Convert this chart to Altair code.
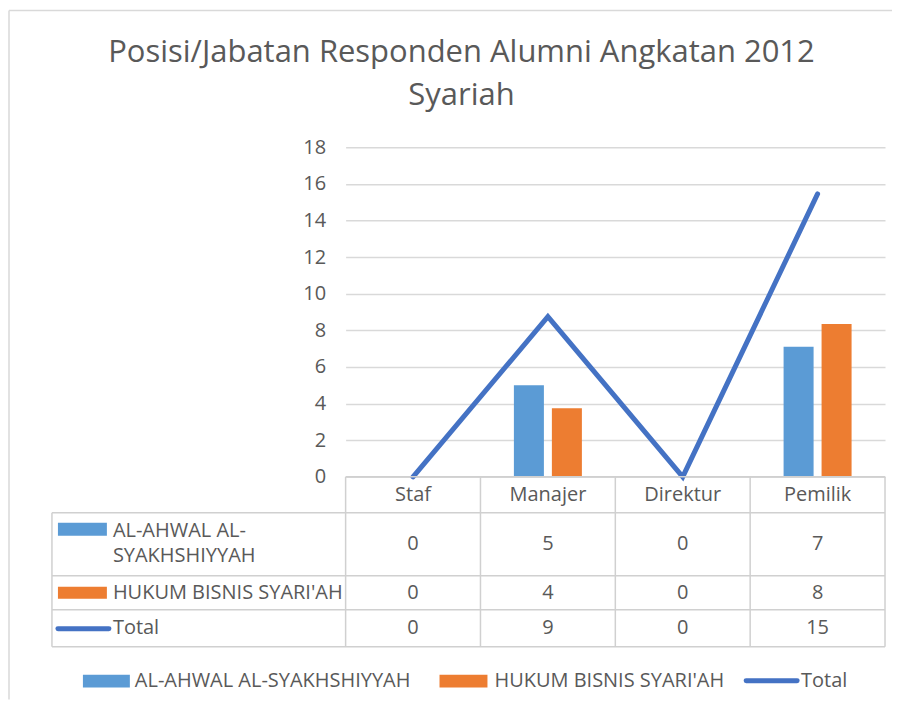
import altair as alt
import pandas as pd

# ---------------- data ----------------
categories = ["Staf", "Manajer", "Direktur", "Pemilik"]
series_names = ["AL-AHWAL AL-SYAKHSHIYYAH", "HUKUM BISNIS SYARI'AH", "Total"]
row_labels = ["AL-AHWAL AL-\nSYAKHSHIYYAH", "HUKUM BISNIS SYARI'AH", "Total"]
ahwal = [0, 5.0, 0, 7.1]
hukum = [0, 3.75, 0, 8.35]
total = [0, 8.75, 0, 15.45]
y_ticks = [0, 2, 4, 6, 8, 10, 12, 14, 16, 18]
title_lines = ["Posisi/Jabatan Responden Alumni Angkatan 2012", "Syariah"]

# ---------------- styles / layout ----------------
BLUE = "#5B9BD5"
ORANGE = "#ED7D31"
LINE = "#4472C4"
TXT = "#595959"
GRID = "#D9D9D9"
FRAME = "#D9D9D9"
FONT = "Open Sans"
FS = 20
W = 540
H = 330
COL = W / len(categories)
# table layout (pixel-like units relative to the table's top-left data corner)
row_top = [36, 99, 133]
row_bot = [99, 133, 170]
header_bot = 36
label_left = -294
label_text_x = -233
# outer chart frame, relative to the plot area's top-left corner
frame_left, frame_top, frame_right, frame_bottom = -337, -137, 547, 553

bars_df = pd.DataFrame(
    [{"cat": c, "series": series_names[0], "value": v} for c, v in zip(categories, ahwal)]
    + [{"cat": c, "series": series_names[1], "value": v} for c, v in zip(categories, hukum)]
)
line_df = pd.DataFrame({"cat": categories, "value": total})

xscale = alt.Scale(paddingInner=0, paddingOuter=0)
yscale = alt.Scale(domain=[0, 18], nice=False)
yaxis = alt.Axis(values=y_ticks, title=None, domain=False, ticks=False, tickSize=0,
                 labelPadding=20, labelFontSize=FS, labelColor=TXT, labelFont=FONT,
                 labelOverlap=False, gridColor=GRID, gridWidth=1.5)

bars = alt.Chart(bars_df).mark_bar().encode(
    x=alt.X("cat:N", sort=categories, scale=xscale, axis=None),
    xOffset=alt.XOffset("series:N", sort=series_names[:2],
                        scale=alt.Scale(paddingInner=0.21, paddingOuter=0.88)),
    y=alt.Y("value:Q", scale=yscale, axis=yaxis),
    color=alt.Color("series:N", scale=alt.Scale(domain=series_names[:2], range=[BLUE, ORANGE]),
                    legend=None),
)
line = alt.Chart(line_df).mark_line(color=LINE, strokeWidth=5, strokeCap="round").encode(
    x=alt.X("cat:N", sort=categories, scale=xscale, axis=None),
    y=alt.Y("value:Q", scale=yscale, axis=yaxis),
)
one = pd.DataFrame({"k": [0]})
frame_v = alt.Chart(one).mark_rule(color=FRAME, strokeWidth=1.5).encode(
    x=alt.value(frame_left), y=alt.value(frame_top), y2=alt.value(frame_bottom))
frame_h = alt.Chart(one).mark_rule(color=FRAME, strokeWidth=1.5).encode(
    x=alt.value(frame_left), x2=alt.value(frame_right), y=alt.value(frame_top))
top = alt.layer(bars, line, frame_v, frame_h).properties(width=W, height=H)

# ---------------- data table ----------------
series_vals = [ahwal, hukum, total]
cells = []
for r, vals in enumerate(series_vals):
    for i, v in enumerate(vals):
        cells.append({"x": (i + 0.5) * COL, "y": (row_top[r] + row_bot[r]) / 2, "v": v})
cells_df = pd.DataFrame(cells)
header_df = pd.DataFrame({"x": [(i + 0.5) * COL for i in range(len(categories))],
                          "y": [header_bot / 2] * len(categories), "t": categories})
label_df = pd.DataFrame({"x": [label_text_x] * 3,
                         "y": [row_top[0] + 18, (row_top[1] + row_bot[1]) / 2,
                               (row_top[2] + row_bot[2]) / 2],
                         "t": row_labels})

segs = [(0, W, 0, 0)]
for yb in [header_bot] + row_bot:
    segs.append((label_left, W, yb, yb))
segs.append((label_left, label_left, header_bot, row_bot[-1]))
for i in range(len(categories) + 1):
    segs.append((i * COL, i * COL, 0, row_bot[-1]))
rules_df = pd.DataFrame(segs, columns=["x", "x2", "y", "y2"])

# swatches for table rows and bottom legend
sw_df = pd.DataFrame([
    {"x": -288, "x2": -239, "y": 46, "y2": 59, "c": BLUE},
    {"x": -288, "x2": -239, "y": 110, "y2": 122, "c": ORANGE},
    {"x": -263, "x2": -216, "y": 198, "y2": 211, "c": BLUE},
    {"x": 94, "x2": 142, "y": 198, "y2": 211, "c": ORANGE},
])
lsw_df = pd.DataFrame([
    {"x": -288, "x2": -237, "y": 152},
    {"x": 401, "x2": 452, "y": 204},
])
leg_df = pd.DataFrame({"x": [-211, 149, 456], "y": [204.5, 204.5, 204.5], "t": series_names})

tx = alt.Scale(domain=[0, W], nice=False, zero=False)
ty = alt.Scale(domain=[0, 170], reverse=True, nice=False, zero=False)

rules = alt.Chart(rules_df).mark_rule(color="#D0D0D0", strokeWidth=1.5).encode(
    x=alt.X("x:Q", scale=tx, axis=None), x2="x2:Q",
    y=alt.Y("y:Q", scale=ty, axis=None), y2="y2:Q")
cell_txt = alt.Chart(cells_df).mark_text(fontSize=FS, color=TXT, font=FONT).encode(
    x=alt.X("x:Q", scale=tx, axis=None), y=alt.Y("y:Q", scale=ty, axis=None),
    text=alt.Text("v:Q", format=".0f"))
head_txt = alt.Chart(header_df).mark_text(fontSize=FS, color=TXT, font=FONT).encode(
    x=alt.X("x:Q", scale=tx, axis=None), y=alt.Y("y:Q", scale=ty, axis=None), text="t:N")
lab_txt = alt.Chart(label_df).mark_text(fontSize=FS, color=TXT, font=FONT, align="left",
                                        lineBreak="\n", lineHeight=25).encode(
    x=alt.X("x:Q", scale=tx, axis=None), y=alt.Y("y:Q", scale=ty, axis=None), text="t:N")
swatches = alt.Chart(sw_df).mark_rect().encode(
    x=alt.X("x:Q", scale=tx, axis=None), x2="x2:Q",
    y=alt.Y("y:Q", scale=ty, axis=None), y2="y2:Q",
    color=alt.Color("c:N", scale=None))
lswatch = alt.Chart(lsw_df).mark_rule(color=LINE, strokeWidth=5, strokeCap="round").encode(
    x=alt.X("x:Q", scale=tx, axis=None), x2="x2:Q", y=alt.Y("y:Q", scale=ty, axis=None))
leg_txt = alt.Chart(leg_df).mark_text(fontSize=FS, color=TXT, font=FONT, align="left").encode(
    x=alt.X("x:Q", scale=tx, axis=None), y=alt.Y("y:Q", scale=ty, axis=None), text="t:N")

table = alt.layer(rules, cell_txt, head_txt, lab_txt, swatches, lswatch, leg_txt).properties(
    width=W, height=170)

chart = alt.vconcat(top, table, spacing=0, bounds="flush").properties(
    title=alt.TitleParams(title_lines, fontSize=31, font=FONT, color=TXT, fontWeight="normal",
                          anchor="middle", lineHeight=43, offset=-102, dx=11),
    padding={"left": 0, "top": 1, "right": 0, "bottom": 0},
).configure(background="white").configure_view(stroke=None)

chart.save("out.html", embed_options={"renderer": "svg", "actions": False})
